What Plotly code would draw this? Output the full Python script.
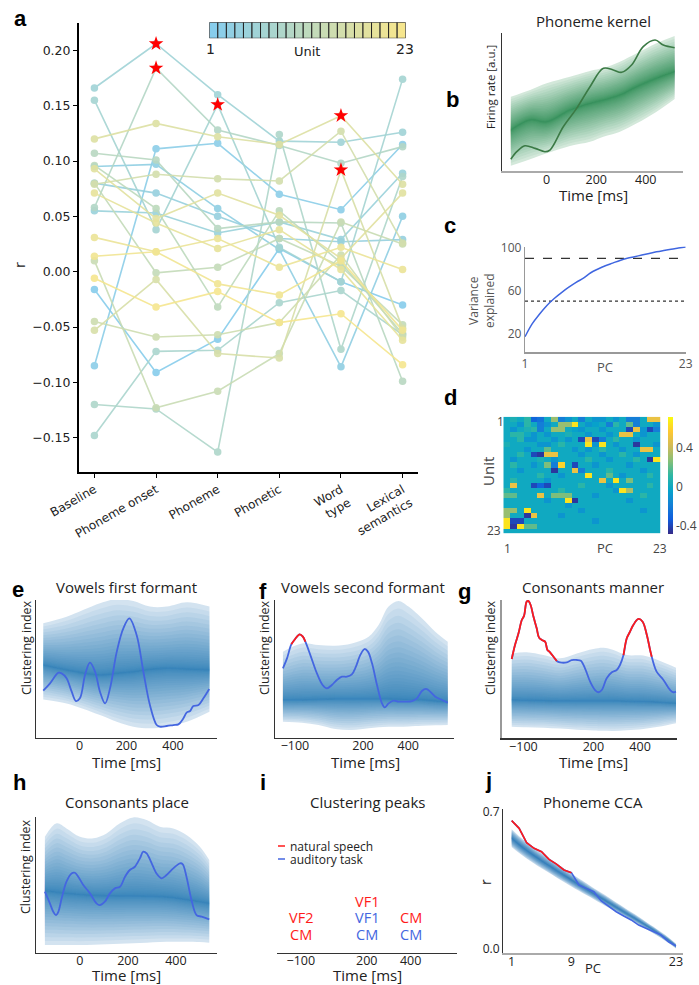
import numpy as np
import plotly.graph_objects as go

W, H = 699, 985
def xd(a, b): return [a / W, b / W]
def yd(top, bot): return [1 - bot / H, 1 - top / H]

# ---------------- panel a data ----------------
a_categories = ["Baseline", "Phoneme onset", "Phoneme", "Phonetic", "Word<br>type", "Lexical<br>semantics"]
unit01 = [-0.016, -0.091, -0.061, 0.021, -0.009, -0.030]
unit02 = [-0.085, 0.111, 0.116, 0.070, 0.056, 0.115]
unit03 = [0.095, 0.097, 0.057, 0.020, -0.086, 0.050]
unit04 = [0.080, 0.071, 0.050, 0.030, 0.027, 0.029]
unit05 = [0.055, 0.053, 0.035, 0.045, 0.029, 0.089]
unit06 = [0.166, 0.206, 0.160, 0.118, 0.117, 0.126]
unit07 = [0.155, 0.038, 0.151, 0.022, -0.009, 0.174]
unit08 = [-0.148, -0.072, -0.071, -0.028, -0.017, -0.057]
unit09 = [-0.120, -0.124, -0.163, 0.124, -0.070, 0.086]
unit10 = [0.058, 0.184, 0.128, 0.114, 0.098, 0.113]
unit11 = [0.107, 0.101, 0.039, 0.045, 0.044, -0.099]
unit12 = [0.096, 0.057, -0.032, 0.055, 0.008, -0.056]
unit13 = [0.080, -0.001, 0.004, 0.030, 0.005, -0.048]
unit14 = [0.010, -0.123, -0.108, -0.074, 0.045, 0.025]
unit15 = [-0.045, -0.059, -0.057, -0.046, 0.015, -0.059]
unit16 = [0.079, 0.088, 0.084, 0.082, 0.127, 0.026]
unit17 = [-0.053, -0.007, -0.074, -0.078, 0.092, -0.051]
unit18 = [0.120, 0.134, 0.122, 0.115, 0.141, 0.079]
unit19 = [0.093, 0.048, 0.071, 0.051, 0.012, 0.071]
unit20 = [0.071, 0.044, 0.021, 0.038, 0.002, -0.062]
unit21 = [0.031, 0.018, 0.030, 0.004, 0.022, 0.002]
unit22 = [0.014, 0.018, -0.011, -0.021, 0.010, -0.053]
unit23 = [-0.006, -0.032, -0.018, -0.046, -0.038, -0.084]
a_units = [unit01, unit02, unit03, unit04, unit05, unit06, unit07, unit08, unit09, unit10,
           unit11, unit12, unit13, unit14, unit15, unit16, unit17, unit18, unit19, unit20,
           unit21, unit22, unit23]
a_star_unit = [6, 10, 7, 18, 17]
a_star_cat = [1, 1, 2, 4, 4]
a_yticks = [-0.15, -0.10, -0.05, 0.00, 0.05, 0.10, 0.15, 0.20]

# ---------------- panel b data ----------------
b_t = [-145, -67, 0, 94, 175, 229, 296, 364, 444, 517]
b_upper = [5.38, 5.87, 6.36, 6.83, 7.25, 7.46, 7.92, 8.53, 9.25, 9.78]
b_center = [2.97, 3.70, 3.57, 4.42, 4.90, 5.14, 5.51, 6.11, 6.72, 7.20]
b_lower = [0.38, 0.85, 1.28, 1.81, 2.12, 2.49, 2.85, 3.46, 4.30, 5.22]
b_kernel_t = [-145, -121, -88, -47, -7, 13, 67, 121, 175, 229, 269, 303, 343, 390, 438, 471, 517]
b_kernel_v = [0.85, 1.40, 1.83, 1.64, 1.40, 1.52, 3.21, 4.54, 6.11, 7.44, 7.32, 7.15, 7.68, 9.01, 9.49, 9.13, 8.93]

# ---------------- panel c data ----------------
c_pc = list(range(1, 24))
c_var = [16.8, 29.0, 38.0, 46.0, 52.5, 58.0, 63.0, 67.5, 71.5, 76.5, 80.0, 83.0, 85.5,
         88.0, 90.0, 91.5, 93.0, 94.5, 96.0, 97.3, 98.5, 99.5, 100.5]
c_dashed = 90
c_dotted = 50

# ---------------- panel d data (unit x PC loadings) ----------------
d_loadings = [
    [0.0, 0.05, 0.0, 0.1, -0.3, -0.25, 0.0, 0.3, -0.2, -0.1, 0.0, -0.2, 0.0, -0.1, -0.1, 0.0, -0.1, 0.0, -0.2, -0.2, 0.0, 0.5, 0.5],
    [0.0, 0.0, -0.1, 0.1, 0.0, -0.2, -0.1, 0.0, 0.3, 0.3, 0.65, 0.0, -0.1, -0.05, 0.0, -0.2, 0.1, 0.0, 0.2, -0.2, 0.0, 0.0, -0.1],
    [0.0, -0.1, 0.0, 0.05, 0.1, -0.2, 0.0, 0.3, 0.3, 0.0, -0.05, -0.1, 0.0, 0.0, -0.1, 0.0, 0.0, 0.0, -0.4, 0.5, -0.1, -0.4, -0.2],
    [0.0, 0.1, 0.1, 0.0, -0.1, 0.0, -0.1, 0.0, 0.0, 0.05, 0.0, 0.0, -0.1, 0.0, 0.0, -0.1, 0.0, 0.5, 0.5, 0.0, -0.1, 0.0, 0.0],
    [0.0, 0.0, 0.1, -0.1, -0.1, 0.0, 0.0, -0.1, 0.0, -0.1, 0.0, -0.4, 0.5, -0.4, -0.2, 0.0, 0.1, 0.0, 0.0, -0.1, 0.0, 0.0, 0.0],
    [0.05, 0.0, 0.0, 0.0, 0.0, -0.1, -0.1, 0.0, 0.1, 0.0, 0.0, 0.0, 0.65, -0.1, 0.65, 0.0, -0.1, 0.0, 0.0, -0.45, 0.0, 0.0, -0.1],
    [0.0, 0.0, 0.0, -0.1, 0.0, 0.0, 0.2, 0.0, 0.0, 0.0, -0.1, 0.0, -0.1, 0.0, 0.1, 0.0, 0.0, -0.1, 0.0, 0.0, 0.5, 0.5, 0.0],
    [0.0, 0.0, 0.1, 0.0, -0.4, -0.45, 0.5, 0.5, 0.0, 0.0, 0.0, -0.1, 0.0, 0.0, -0.1, 0.0, 0.0, 0.1, 0.0, -0.1, 0.0, 0.0, 0.0],
    [0.0, -0.1, 0.0, 0.0, 0.0, 0.05, 0.0, -0.1, 0.0, 0.0, 0.0, 0.0, 0.1, 0.0, 0.0, -0.1, 0.0, 0.0, 0.0, 0.1, 0.0, -0.45, 0.65],
    [0.0, 0.1, 0.0, 0.0, -0.1, 0.0, 0.25, -0.2, 0.6, 0.0, -0.4, 0.0, 0.0, -0.1, 0.0, 0.0, 0.0, 0.0, -0.1, 0.0, 0.0, 0.0, 0.0],
    [0.0, 0.0, -0.1, 0.0, 0.0, 0.0, 0.0, -0.45, 0.0, 0.0, 0.5, -0.2, 0.0, 0.0, 0.0, 0.1, 0.0, 0.0, 0.0, 0.0, -0.1, 0.0, 0.0],
    [0.0, 0.0, 0.0, 0.0, 0.0, 0.1, 0.0, 0.0, -0.1, 0.0, 0.0, 0.0, 0.65, 0.0, 0.0, 0.2, 0.0, -0.1, 0.0, 0.0, 0.0, 0.1, 0.0],
    [0.0, 0.1, 0.0, 0.0, 0.0, 0.0, -0.1, 0.0, 0.0, 0.0, 0.0, 0.0, 0.0, 0.0, 0.5, 0.0, 0.65, 0.0, 0.25, 0.0, 0.0, 0.0, 0.0],
    [0.0, 0.5, 0.0, 0.0, -0.4, -0.3, -0.4, 0.0, 0.0, 0.0, 0.0, 0.1, 0.0, 0.0, 0.0, -0.1, 0.0, 0.0, 0.0, 0.0, 0.0, 0.1, 0.0],
    [0.1, 0.0, 0.0, 0.0, 0.0, 0.0, 0.0, 0.0, 0.1, 0.0, 0.0, 0.0, 0.0, 0.0, 0.0, 0.0, -0.1, 0.65, 0.35, 0.0, 0.0, 0.0, 0.0],
    [0.2, 0.2, 0.0, 0.0, 0.0, 0.5, 0.0, 0.25, 0.25, 0.25, 0.0, 0.0, 0.0, -0.1, 0.0, 0.0, 0.0, 0.0, 0.0, 0.0, 0.1, 0.0, 0.0],
    [0.0, 0.0, 0.0, 0.0, 0.0, 0.0, -0.1, 0.0, 0.0, 0.65, -0.45, 0.0, 0.0, 0.0, 0.0, 0.0, 0.0, 0.0, -0.1, 0.0, 0.0, 0.0, 0.0],
    [0.0, 0.0, 0.0, 0.0, 0.0, 0.0, 0.0, 0.0, 0.0, -0.1, 0.0, 0.0, 0.0, 0.0, 0.0, 0.0, 0.0, 0.0, 0.0, 0.0, 0.0, 0.0, 0.0],
    [0.3, 0.3, 0.0, 0.65, 0.0, 0.0, 0.0, 0.0, 0.0, 0.0, 0.0, -0.1, 0.0, 0.0, 0.0, 0.0, 0.0, 0.0, 0.0, 0.0, -0.1, 0.0, 0.0],
    [0.3, 0.0, 0.0, -0.45, 0.5, 0.0, 0.0, 0.0, -0.1, 0.0, 0.0, 0.0, 0.0, 0.0, 0.0, 0.0, 0.0, 0.0, 0.0, 0.0, 0.0, 0.0, 0.0],
    [0.65, -0.4, -0.4, 0.0, 0.0, 0.0, 0.0, 0.0, 0.0, 0.0, 0.0, 0.0, 0.0, -0.1, 0.0, 0.0, 0.0, 0.0, 0.0, 0.0, 0.0, 0.0, 0.0],
    [0.65, -0.45, 0.65, 0.2, 0.2, 0.0, 0.0, 0.0, 0.0, 0.0, 0.0, 0.0, 0.0, 0.0, 0.0, 0.0, 0.0, 0.0, 0.0, 0.0, 0.0, 0.0, 0.0],
    [0.0, 0.0, 0.0, 0.0, 0.0, 0.0, 0.0, 0.0, 0.0, 0.0, 0.0, 0.0, 0.0, 0.0, 0.0, 0.0, 0.0, 0.0, 0.0, 0.0, 0.0, 0.0, 0.0],
]

# ---------------- panels e-h data ----------------
e_t = [-156, -56, 87, 159, 230, 301, 373, 459, 556]
e_upper = [8.31, 8.79, 9.76, 10.07, 9.92, 9.52, 9.52, 9.83, 9.52]
e_center = [5.28, 4.92, 4.55, 4.67, 4.79, 4.96, 5.04, 4.99, 4.92]
e_lower = [2.78, 2.49, 1.65, 1.16, 0.80, 0.68, 0.80, 1.16, 1.89]
e_curve_t = [-156, -127, -91, -77, -56, -34, -16, 1, 23, 44, 66, 87, 109, 130, 159, 187, 213, 244, 273, 301,
             330, 344, 373, 401, 423, 444, 459, 473, 487, 509, 530, 555]
e_curve_v = [3.41, 3.95, 4.72, 4.67, 4.31, 3.34, 2.66, 2.86, 4.55, 5.45, 4.79, 3.34, 2.49, 3.58, 6.25, 7.94, 8.67,
             7.46, 4.79, 2.37, 0.92, 0.80, 0.85, 0.92, 0.97, 1.40, 1.84, 1.94, 2.30, 2.37, 2.86, 3.54]
e_sig = [False] * len(e_curve_t)

f_t = [-153, -69, 4, 78, 151, 225, 269, 313, 357, 401, 460, 519, 574]
f_upper = [6.25, 6.85, 6.73, 6.68, 6.85, 7.34, 8.18, 9.52, 9.93, 9.52, 8.67, 7.70, 6.97]
f_center = [2.74, 2.74, 2.78, 2.81, 2.81, 2.81, 2.81, 2.81, 2.78, 2.76, 2.74, 2.66, 2.62]
f_lower = [1.16, 1.09, 0.92, 0.63, 0.56, 0.68, 0.75, 0.80, 0.80, 0.82, 0.87, 0.90, 0.92]
f_curve_t = [-153, -135, -116, -99, -79, -65, -54, -32, -3, 22, 41, 63, 85, 107, 129, 151, 169, 188, 207, 222,
             240, 262, 284, 296, 313, 335, 357, 387, 416, 438, 460, 478, 497, 519, 549, 574]
f_curve_v = [5.04, 5.76, 6.78, 7.17, 7.51, 7.34, 6.97, 6.00, 4.67, 3.83, 3.58, 3.83, 4.19, 4.43, 4.43, 4.60, 5.16,
             6.00, 6.44, 6.25, 5.40, 3.83, 2.49, 2.20, 2.49, 2.69, 2.62, 2.62, 2.66, 2.86, 3.39, 3.54, 3.34, 2.98,
             2.74, 2.54]
f_sig = [False, False, True, True, True, True, True] + [False] * 29

g_t = [-150, -86, -14, 57, 129, 200, 243, 286, 343, 414, 486, 554]
g_upper = [6.14, 6.22, 6.02, 5.78, 6.14, 6.46, 6.55, 6.39, 6.02, 5.98, 5.59, 5.11]
g_center = [2.77, 2.75, 2.72, 2.70, 2.70, 2.70, 2.70, 2.70, 2.68, 2.65, 2.60, 2.53]
g_lower = [0.84, 0.80, 0.77, 0.70, 0.62, 0.57, 0.54, 0.53, 0.58, 0.67, 0.85, 1.08]
g_curve_t = [-150, -136, -121, -107, -97, -86, -79, -69, -57, -43, -33, -21, -7, 3, 14, 29, 43,
             57, 86, 107, 129, 146, 164, 186, 207, 221, 236, 257, 279, 300, 314,
             329, 343, 357, 371, 393, 411, 429, 443, 450,
             471, 500, 529, 543, 554]
g_curve_v = [5.73, 6.75, 7.59, 8.55, 8.87, 9.88, 9.93, 9.64, 8.80, 7.95, 7.28, 7.11, 6.99, 6.39, 6.22, 5.90, 5.59,
             5.49, 5.49, 5.66, 5.66, 5.61, 5.06, 4.10, 3.49, 3.33, 3.49, 4.34, 4.77, 4.94, 5.30,
             6.02, 7.23, 7.71, 8.19, 8.63, 8.43, 7.47, 6.39, 5.90,
             4.82, 4.22, 3.49, 3.33, 3.37]
g_sig = [True] * 17 + [False] * 14 + [True] * 9 + [False] * 5

h_t = [-146, -97, -56, 0, 56, 111, 167, 222, 278, 333, 389, 444, 500, 539]
h_upper = [8.53, 9.51, 9.14, 8.53, 8.41, 8.77, 9.51, 9.95, 9.75, 9.26, 9.14, 8.65, 7.79, 6.81]
h_center = [4.56, 4.45, 4.36, 4.28, 4.22, 4.18, 4.17, 4.17, 4.15, 4.13, 4.05, 3.90, 3.75, 3.63]
h_lower = [0.56, 0.56, 0.56, 0.56, 0.58, 0.62, 0.66, 0.70, 0.74, 0.78, 0.80, 0.80, 0.78, 0.74]
h_curve_t = [-146, -125, -111, -100, -90, -76, -56, -35, -21, -7, 14, 42, 69, 83, 104, 125, 146, 167, 188, 208,
             229, 250, 264, 278, 299, 319, 340, 361, 389, 417, 428, 444, 465, 486, 507, 539]
h_curve_v = [4.49, 3.63, 3.01, 2.77, 3.01, 4.00, 5.22, 5.83, 5.88, 5.59, 4.98, 4.36, 3.63, 3.50, 3.75, 4.36, 4.73,
             4.85, 5.59, 6.08, 6.32, 6.94, 7.43, 7.30, 6.57, 5.83, 5.47, 5.71, 6.20, 6.57, 6.52, 5.59, 3.87, 2.77,
             2.65, 2.45]
h_sig = [False] * len(h_curve_t)

# ---------------- panel i data ----------------
i_labels = ["VF2", "CM", "VF1", "VF1", "CM", "CM", "CM"]
i_times = [-100, -100, 200, 200, 200, 400, 400]
i_levels = [2.57, 1.375, 3.75, 2.57, 1.375, 2.57, 1.375]
i_task = ["natural speech", "natural speech", "natural speech", "auditory task", "auditory task",
          "natural speech", "auditory task"]

# ---------------- panel j data ----------------
j_pc = list(range(1, 24))
j_r = [0.654, 0.615, 0.542, 0.513, 0.496, 0.457, 0.433, 0.403, 0.389, 0.326, 0.309, 0.292, 0.245, 0.216,
       0.190, 0.168, 0.148, 0.122, 0.105, 0.085, 0.071, 0.037, 0.015]
j_sig = [True] * 9 + [False] * 14
j_null_center = [0.565, 0.532, 0.503, 0.476, 0.450, 0.425, 0.400, 0.376, 0.352, 0.328, 0.305, 0.282, 0.259,
                 0.236, 0.213, 0.190, 0.167, 0.144, 0.120, 0.096, 0.071, 0.045, 0.015]
j_null_halfwidth = [0.045, 0.043, 0.042, 0.040, 0.039, 0.037, 0.036, 0.034, 0.033, 0.031, 0.030, 0.028, 0.027,
                    0.026, 0.024, 0.023, 0.021, 0.020, 0.018, 0.017, 0.015, 0.014, 0.012]

# ---------------- styling ----------------
RED = "#ff1a1a"
BLUE = "#4466e0"
BLUES = "33,113,181"
GREENS = "35,139,69"
FONT = "Open Sans"
AFONT = "DejaVu Sans"
TXT = "#222222"

def unit_color(i, n=23):
    lo = np.array([135, 205, 236])
    hi = np.array([246, 230, 142])
    f = (i - 1) / (n - 1)
    c = lo + (hi - lo) * f
    return "rgb(%d,%d,%d)" % tuple(np.round(c).astype(int))

fig = go.Figure()

# ---------- panel a ----------
for k, vals in enumerate(a_units):
    col = unit_color(k + 1)
    fig.add_trace(go.Scatter(
        x=list(range(len(a_categories))), y=vals, mode="lines+markers",
        line=dict(color=col, width=1.6), marker=dict(color=col, size=7.5),
        opacity=0.9, showlegend=False, hoverinfo="skip", xaxis="x", yaxis="y"))
fig.add_trace(go.Scatter(
    x=a_star_cat, y=[a_units[u - 1][c] for u, c in zip(a_star_unit, a_star_cat)],
    mode="markers", marker=dict(symbol="star", color="#ff0000", size=11, line=dict(width=0)),
    showlegend=False, hoverinfo="skip", xaxis="x", yaxis="y"))

fig.add_trace(go.Bar(
    x=list(range(1, 24)), y=[1] * 23, width=1,
    marker=dict(color=[unit_color(i) for i in range(1, 24)], line=dict(color="#222", width=1)),
    showlegend=False, hoverinfo="skip", xaxis="x2", yaxis="y2"))

# ---------- band helper (smooth gradient from stacked layers) ----------
def add_band(t, lo, mid, hi, rgb, xa, ya, n=28, a_out=0.2, a_in=0.065, p=2.2):
    t = np.asarray(t, float); lo = np.asarray(lo, float)
    mid = np.asarray(mid, float); hi = np.asarray(hi, float)
    for k in range(n, 0, -1):
        f = (k / n) ** p
        up = mid + (hi - mid) * f
        dn = mid - (mid - lo) * f
        alpha = a_out if k == n else a_in
        fig.add_trace(go.Scatter(x=t, y=dn, mode="lines", line=dict(width=0, shape="spline"),
                                 showlegend=False, hoverinfo="skip", xaxis=xa, yaxis=ya))
        fig.add_trace(go.Scatter(x=t, y=up, mode="lines", line=dict(width=0, shape="spline"),
                                 fill="tonexty", fillcolor="rgba(%s,%.3f)" % (rgb, alpha),
                                 showlegend=False, hoverinfo="skip", xaxis=xa, yaxis=ya))

def add_curve(t, v, sig, color, xa, ya, width=1.8, shape="spline"):
    fig.add_trace(go.Scatter(x=t, y=v, mode="lines", line=dict(color=color, width=width, shape=shape),
                             showlegend=False, hoverinfo="skip", xaxis=xa, yaxis=ya))
    if any(sig):
        vr = [vv if s else None for vv, s in zip(v, sig)]
        fig.add_trace(go.Scatter(x=t, y=vr, mode="lines", line=dict(color=RED, width=width, shape=shape),
                                 connectgaps=False, showlegend=False, hoverinfo="skip", xaxis=xa, yaxis=ya))

# ---------- panel b ----------
add_band(b_t, b_lower, b_center, b_upper, GREENS, "x3", "y3")
fig.add_trace(go.Scatter(x=b_kernel_t, y=b_kernel_v, mode="lines",
                         line=dict(color="#3b7a45", width=1.6, shape="spline"),
                         showlegend=False, hoverinfo="skip", xaxis="x3", yaxis="y3"))

# ---------- panel c ----------
fig.add_trace(go.Scatter(x=[1, 23], y=[c_dashed, c_dashed], mode="lines",
                         line=dict(color="#333", width=1.2, dash="dash"),
                         showlegend=False, hoverinfo="skip", xaxis="x4", yaxis="y4"))
fig.add_trace(go.Scatter(x=[1, 23], y=[c_dotted, c_dotted], mode="lines",
                         line=dict(color="#333", width=1.2, dash="dot"),
                         showlegend=False, hoverinfo="skip", xaxis="x4", yaxis="y4"))
fig.add_trace(go.Scatter(x=c_pc, y=c_var, mode="lines", line=dict(color="#3f66e0", width=1.5, shape="spline"),
                         showlegend=False, hoverinfo="skip", xaxis="x4", yaxis="y4"))

# ---------- panel d ----------
parula = [[0.0, "#352a87"], [0.125, "#0f5cdd"], [0.25, "#1481d6"], [0.375, "#06a4ca"],
          [0.5, "#2eb7a4"], [0.625, "#87bf77"], [0.75, "#d1bb59"], [0.875, "#fec832"], [1.0, "#f9fb0e"]]
fig.add_trace(go.Heatmap(
    z=d_loadings, x=list(range(1, 24)), y=list(range(1, 24)), colorscale=parula,
    zmin=-0.49, zmax=0.72, xaxis="x5", yaxis="y5", hoverinfo="skip",
    colorbar=dict(x=668.3 / W, xanchor="left", y=1 - 417.3 / H, yanchor="top",
                  len=116.7 / H, lenmode="fraction", thickness=4.5, thicknessmode="pixels",
                  outlinewidth=0, xpad=0, ypad=0, ticks="",
                  tickvals=[-0.4, 0, 0.4], ticktext=["-0.4", "0", "0.4"],
                  tickfont=dict(family=FONT, size=12, color="#444"))))

# ---------- panels e-h ----------
for (t, lo, mid, hi, ct, cv, sg, xa, ya) in [
        (e_t, e_lower, e_center, e_upper, e_curve_t, e_curve_v, e_sig, "x6", "y6"),
        (f_t, f_lower, f_center, f_upper, f_curve_t, f_curve_v, f_sig, "x7", "y7"),
        (g_t, g_lower, g_center, g_upper, g_curve_t, g_curve_v, g_sig, "x8", "y8"),
        (h_t, h_lower, h_center, h_upper, h_curve_t, h_curve_v, h_sig, "x9", "y9")]:
    add_band(t, lo, mid, hi, BLUES, xa, ya)
    add_curve(ct, cv, sg, BLUE, xa, ya)

# ---------- panel j ----------
jc = np.array(j_null_center); jh = np.array(j_null_halfwidth)
add_band(j_pc, jc - jh, jc, jc + jh, BLUES, "x11", "y11", n=16, a_out=0.25, a_in=0.12, p=1.6)
add_curve(j_pc, j_r, j_sig, BLUE, "x11", "y11", width=1.6, shape="linear")

# ---------- axes ----------
def base_axis(**kw):
    d = dict(showgrid=False, zeroline=False, fixedrange=True, automargin=False)
    d.update(kw)
    return d

tf = dict(family=FONT, size=12.5, color=TXT)
layout_axes = dict(
    xaxis=base_axis(domain=xd(79, 418), range=[-0.25, 5.25], anchor="y",
                    tickvals=list(range(6)), ticktext=a_categories, tickangle=-30,
                    ticks="outside", ticklen=4, tickcolor="#000", showline=True, linecolor="#000",
                    linewidth=2, tickfont=dict(family=AFONT, size=12, color=TXT)),
    yaxis=base_axis(domain=yd(22.7, 472), range=[-0.181, 0.225], anchor="x",
                    tickvals=a_yticks, tickformat=".2f", ticks="outside", ticklen=4, tickcolor="#000",
                    showline=True, linecolor="#000", linewidth=2,
                    tickfont=dict(family=AFONT, size=12.5, color=TXT)),
    xaxis2=base_axis(domain=xd(209.3, 405.7), range=[0.5, 23.5], anchor="y2", visible=False),
    yaxis2=base_axis(domain=yd(22.3, 38.3), range=[0, 1], anchor="x2", visible=False),
    xaxis3=base_axis(domain=xd(502.3, 683), range=[-179.4, 550.7], anchor="y3",
                     tickvals=[0, 200, 400], ticks="", showline=True, linecolor="#aaaaaa",
                     linewidth=1.5, tickfont=tf, ticklabelstandoff=-4),
    yaxis3=base_axis(domain=yd(33, 171), range=[0, 10], anchor="x3", showticklabels=False,
                     ticks="", showline=True, linecolor="#333", linewidth=1.2),
    xaxis4=base_axis(domain=xd(525, 685.7), range=[1, 23], anchor="y4", tickvals=[1, 23],
                     ticks="", showline=True, linecolor="#999", linewidth=1.2,
                     tickfont=dict(family=FONT, size=12, color="#555")),
    yaxis4=base_axis(domain=yd(246.6, 352.3), range=[2.33, 100.9], anchor="x4",
                     tickvals=[20, 60, 100], ticks="", showline=True, linecolor="#999", linewidth=1.2,
                     tickfont=dict(family=FONT, size=12, color="#555")),
    xaxis5=base_axis(domain=xd(503.3, 660.7), range=[0.5, 23.5], anchor="y5",
                     showticklabels=False, ticks="", showline=False),
    yaxis5=base_axis(domain=yd(416.7, 533.3), range=[23.5, 0.5], anchor="x5",
                     showticklabels=False, ticks="", showline=False),
)
for xa, ya, xdom, ydom, xr, lx, ly in [
        ("xaxis6", "yaxis6", xd(36, 216.7), yd(600, 737.7), [-187, 587], "#333", "#333"),
        ("xaxis7", "yaxis7", xd(275, 454.3), yd(600, 737.7), [-188, 603], "#333", "#333"),
        ("xaxis8", "yaxis8", xd(501.7, 676.7), yd(600, 738.3), [-193, 557], "#333", "#999"),
        ("xaxis9", "yaxis9", xd(36, 216.7), yd(816.7, 952.7), [-183, 570], "#333", "#333")]:
    n = xa[5:]
    ticks = [0, 200, 400] if n in ("6", "9") else [-100, 200, 400]
    layout_axes[xa] = base_axis(domain=xdom, range=xr, anchor="y" + n, tickvals=ticks, ticks="",
                                showline=True, linecolor=lx, linewidth=1.3, tickfont=tf,
                                ticklabelstandoff=-4)
    layout_axes[ya] = base_axis(domain=ydom, range=[0, 10], anchor="x" + n, showticklabels=False,
                                ticks="", showline=True, linecolor=ly, linewidth=1.3)
layout_axes["xaxis10"] = base_axis(domain=xd(276.7, 456.7), range=[-210, 610], anchor="y10",
                                   tickvals=[-100, 200, 400], ticks="", showline=True, linecolor="#333",
                                   linewidth=1.3, tickfont=tf, ticklabelstandoff=-4)
layout_axes["yaxis10"] = base_axis(domain=yd(816.7, 952.7), range=[0, 10], anchor="x10", visible=False)
layout_axes["xaxis11"] = base_axis(domain=xd(503.3, 682.7), range=[-0.12, 23.9], anchor="y11",
                                   tickvals=[1, 9, 23], ticks="", showline=True, linecolor="#aaaaaa",
                                   linewidth=1.5, tickfont=tf, ticklabelstandoff=-4)
layout_axes["yaxis11"] = base_axis(domain=yd(809.3, 953.3), range=[-0.022, 0.712], anchor="x11",
                                   tickvals=[0, 0.7], ticktext=["0.0", "0.7"], ticks="", showline=True,
                                   linecolor="#333", linewidth=1.3, tickfont=dict(family=FONT, size=12, color=TXT))

# ---------- annotations ----------
anns = []
def ann(text, x, y, size=13, color=TXT, family=FONT, angle=0, xanchor="center", yanchor="middle"):
    anns.append(dict(text=text, x=x / W, y=1 - y / H, xref="paper", yref="paper", showarrow=False,
                     font=dict(family=family, size=size, color=color), textangle=angle,
                     xanchor=xanchor, yanchor=yanchor))

for letter, x, y in [("a", 20, 18), ("b", 452, 100), ("c", 450, 225), ("d", 450, 398),
                     ("e", 18, 589), ("f", 263, 591), ("g", 464, 591), ("h", 19, 782),
                     ("i", 263, 782), ("j", 488, 780)]:
    ann("<b>%s</b>" % letter, x, y, size=22, color="#000", family="Liberation Sans")

ann("r", 20, 265, size=14, family=AFONT, angle=-90)
ann("1", 210, 49, size=14, family=AFONT)
ann("23", 405, 49, size=14, family=AFONT)
ann("Unit", 307, 52, size=13, family=AFONT)

ann("Phoneme kernel", 593, 21, size=15)
ann("Firing rate [a.u.]", 491, 87, size=11.5, angle=-90)
ann("Time [ms]", 593, 195, size=15)

ann("Variance<br>explained", 481, 300, size=12, color="#555", angle=-90)
ann("PC", 605, 367, size=13, color="#555")

ann("1", 500, 421, size=12, color="#444")
ann("23", 494, 530, size=12, color="#444")
ann("Unit", 488, 472, size=15, color="#444", angle=-90)
ann("1", 507, 548, size=12, color="#444")
ann("PC", 605, 548, size=13, color="#444")
ann("23", 660, 548, size=12, color="#444")

for title, x, y in [("Vowels first formant", 127, 587), ("Vowels second formant", 363, 587),
                    ("Consonants manner", 593, 587), ("Consonants place", 127, 802),
                    ("Clustering peaks", 367, 802), ("Phoneme CCA", 593, 802)]:
    ann(title, x, y, size=15)
for x, y in [(127, 762), (365, 762), (593, 762), (127, 975), (367, 975)]:
    ann("Time [ms]", x, y, size=15)
for x, y in [(26, 648), (264, 648), (490, 648), (25, 867)]:
    ann("Clustering index", x, y, size=12.5, angle=-90)

ann("PC", 593, 968, size=13)
ann("r", 485, 882, size=14, angle=-90)

ann("natural speech", 288, 846, size=12, xanchor="left")
ann("auditory task", 288, 859, size=12, xanchor="left")
for lab, t, lev, task in zip(i_labels, i_times, i_levels, i_task):
    anns.append(dict(text=lab, x=t, y=lev, xref="x10", yref="y10", showarrow=False,
                     font=dict(family=FONT, size=14.5, color=RED if task == "natural speech" else BLUE),
                     xanchor="center", yanchor="middle"))

shapes = [
    dict(type="line", xref="paper", yref="paper", x0=278 / W, x1=285 / W, y0=1 - 846 / H, y1=1 - 846 / H,
         line=dict(color=RED, width=1.5)),
    dict(type="line", xref="paper", yref="paper", x0=278 / W, x1=285 / W, y0=1 - 859 / H, y1=1 - 859 / H,
         line=dict(color=BLUE, width=1.5)),
]

fig.update_layout(
    width=W, height=H, margin=dict(l=0, r=0, t=0, b=0, autoexpand=False), autosize=False,
    paper_bgcolor="white", plot_bgcolor="white", showlegend=False,
    bargap=0, annotations=anns, shapes=shapes, **layout_axes)

fig.write_html("out.html", config={"displayModeBar": False, "staticPlot": True},
               post_script="document.body.style.margin='0px';")
